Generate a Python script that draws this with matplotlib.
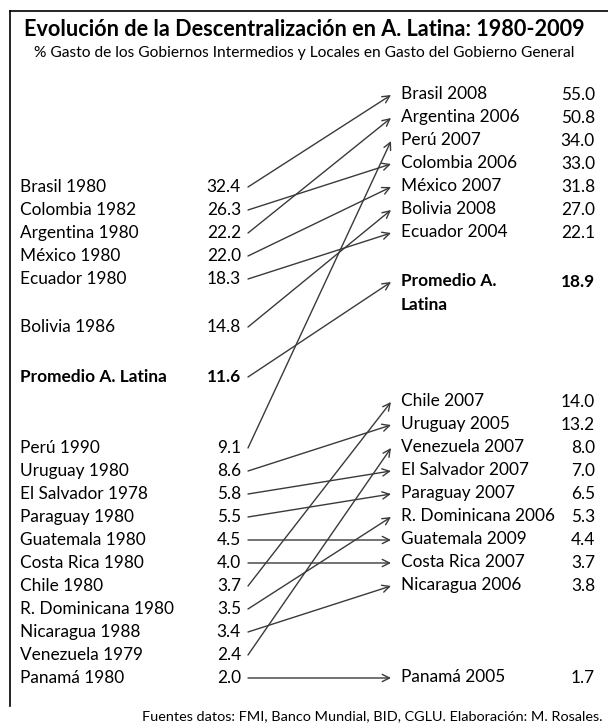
import matplotlib
matplotlib.use("Agg")
import matplotlib.pyplot as plt

plt.rcParams['font.family'] = ['Lato', 'DejaVu Sans']

# data: left column (start year), right column (end year)
left_labels = ['Brasil 1980', 'Colombia 1982', 'Argentina 1980', 'México 1980', 'Ecuador 1980',
               'Bolivia 1986', 'Promedio A. Latina', 'Perú 1990', 'Uruguay 1980', 'El Salvador 1978',
               'Paraguay 1980', 'Guatemala 1980', 'Costa Rica 1980', 'Chile 1980', 'R. Dominicana 1980',
               'Nicaragua 1988', 'Venezuela 1979', 'Panamá 1980']
left_values = [32.4, 26.3, 22.2, 22.0, 18.3, 14.8, 11.6, 9.1, 8.6, 5.8, 5.5, 4.5, 4.0, 3.7, 3.5, 3.4, 2.4, 2.0]

right_labels = ['Brasil 2008', 'Argentina 2006', 'Perú 2007', 'Colombia 2006', 'México 2007',
                'Bolivia 2008', 'Ecuador 2004', 'Promedio A.\nLatina', 'Chile 2007', 'Uruguay 2005',
                'Venezuela 2007', 'El Salvador 2007', 'Paraguay 2007', 'R. Dominicana 2006',
                'Guatemala 2009', 'Costa Rica 2007', 'Nicaragua 2006', 'Panamá 2005']
right_values = [55.0, 50.8, 34.0, 33.0, 31.8, 27.0, 22.1, 18.9, 14.0, 13.2, 8.0, 7.0, 6.5, 5.3, 4.4, 3.7, 3.8, 1.7]

# which right row each left row goes to
links = [0, 3, 1, 4, 6, 5, 7, 2, 9, 11, 12, 14, 15, 8, 13, 16, 10, 17]

# layout (pixel rows)
left_y = [187, 210, 233, 256, 279, 327, 377, 448, 471, 494, 517, 540, 563, 586, 609, 632, 655, 678]
right_y = [95, 118, 141, 164, 187, 210, 233, 282, 402, 425, 448, 471, 494, 517, 540, 563, 586, 678]
bold_left = 6
bold_right = 7

fig = plt.figure(figsize=(6.08, 7.26), dpi=100)
ax = fig.add_axes([0, 0, 1, 1])
ax.set_xlim(0, 608)
ax.set_ylim(726, 0)
ax.axis('off')

# frame lines
ax.plot([10, 608], [11, 11], color='black', lw=1.2)
ax.plot([10, 10], [11, 706], color='black', lw=1.2)

ax.text(304, 29, 'Evolución de la Descentralización en A. Latina: 1980-2009',
        ha='center', va='center', fontsize=15.6, fontweight='bold')
ax.text(304, 53, '% Gasto de los Gobiernos Intermedios y Locales en Gasto del Gobierno General',
        ha='center', va='center', fontsize=11.2)
ax.text(603, 716, 'Fuentes datos: FMI, Banco Mundial, BID, CGLU. Elaboración: M. Rosales.',
        ha='right', va='center', fontsize=10.4)

fs = 12.4
for i, (lab, val, y) in enumerate(zip(left_labels, left_values, left_y)):
    w = 'bold' if i == bold_left else 'normal'
    ax.text(20, y, lab, ha='left', va='center', fontsize=fs, fontweight=w)
    ax.text(241, y, f'{val:.1f}', ha='right', va='center', fontsize=fs, fontweight=w)

for i, (lab, val, y) in enumerate(zip(right_labels, right_values, right_y)):
    w = 'bold' if i == bold_right else 'normal'
    ax.text(401, y - 9, lab, ha='left', va='top', fontsize=fs, fontweight=w, linespacing=1.6)
    ax.text(595, y, f'{val:.1f}', ha='right', va='center', fontsize=fs, fontweight=w)

for i, j in enumerate(links):
    ax.annotate('', xy=(391, right_y[j]), xytext=(248, left_y[i]),
                arrowprops=dict(arrowstyle='->', color='#3a3a3a', lw=1.0,
                                shrinkA=0, shrinkB=0, mutation_scale=13))

fig.savefig('out.png', dpi=100)
